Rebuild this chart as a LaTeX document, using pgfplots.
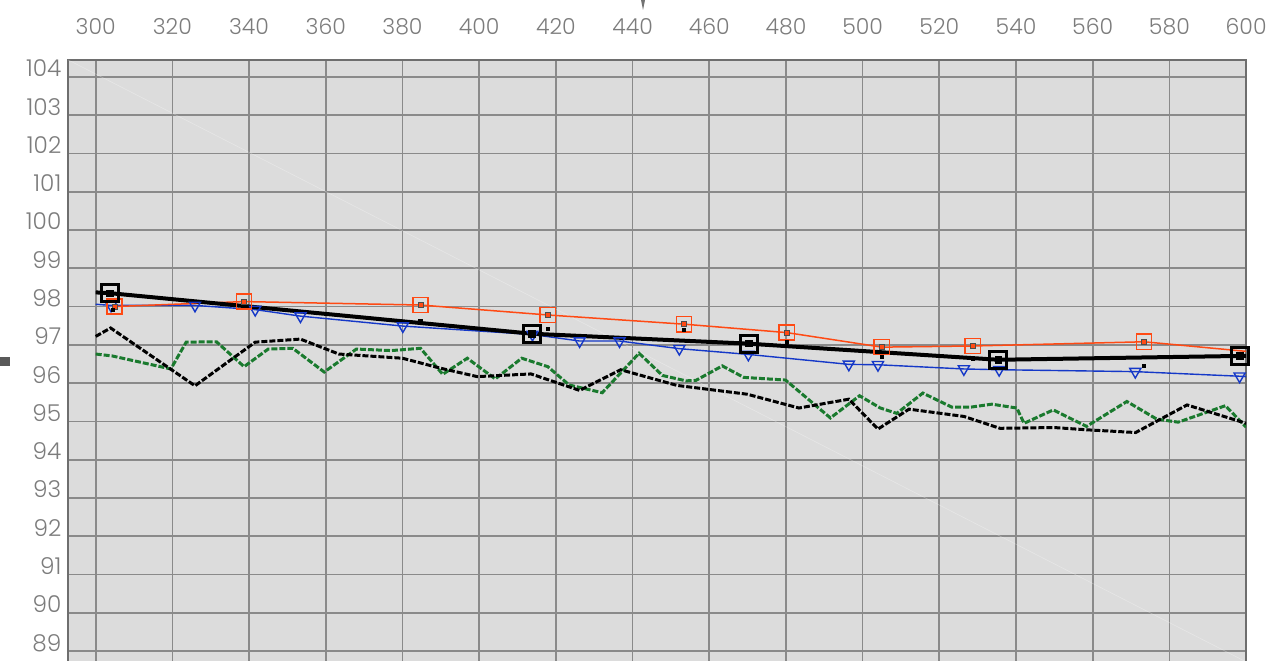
\documentclass[border=0pt]{standalone}
\usepackage{fontspec}
\setmainfont{Poppins}[UprightFont=* Light, Numbers=Monospaced]
\usepackage{pgfplots}
\pgfplotsset{compat=1.18}
\definecolor{bg}{HTML}{DCDCDC}
\definecolor{gridc}{HTML}{8A8A8A}
\definecolor{labc}{HTML}{7C7C7C}
\definecolor{oran}{HTML}{FF4A14}
\definecolor{blu}{HTML}{1538C8}
\definecolor{grn}{HTML}{1A7A2E}
\begin{document}
\begin{tikzpicture}
\path[use as bounding box] (0pt,0pt) rectangle (640pt,330pt);
\begin{axis}[
  at={(34.15pt,300pt)}, anchor=north west,
  scale only axis, width=588.9pt, height=314.7pt,
  xmin=292.86, xmax=600, ymin=88, ymax=104.44,
  xtick={300,320,...,600}, ytick={89,90,...,104},
  xticklabel pos=upper,
  major tick length=0pt,
  grid=major,
  major grid style={draw=gridc, line width=0.85pt},
  axis line style={draw=gridc!80!black, line width=0.9pt},
  axis background/.style={fill=bg},
  /pgf/number format/assume math mode=true,
  xticklabel style={font=\fontsize{11}{13}\selectfont, text=labc, anchor=base, inner sep=0pt, yshift=12.85pt},
  yticklabel style={font=\fontsize{11.6}{13}\selectfont, text=labc, anchor=base east, inner sep=0pt, xshift=-3.3pt},
  clip=true,
]
% faint diagonal
\addplot[white, opacity=0.3, line width=0.3pt] coordinates {(292.86,104.44) (600,88.72)};
% green dashed
\addplot[grn, line width=1.5pt, dash pattern=on 3pt off 1pt] coordinates {
(300,96.76) (304.3,96.71) (319.6,96.37) (323.6,97.07) (331.5,97.08) (338.7,96.43) (345.0,96.89) (351.4,96.91) (359.6,96.29) (368.0,96.89) (377.1,96.85) (384.7,96.91) (390.5,96.23) (396.9,96.65) (404.2,96.11) (411.1,96.65) (417.9,96.43) (423.5,95.95) (432.1,95.75) (441.7,96.78) (447.8,96.20) (453.9,96.06) (456.5,96.07) (463.4,96.45) (469.0,96.15) (479.9,96.08) (491.6,95.09) (499.2,95.67) (504.6,95.35) (508.9,95.21) (515.7,95.74) (523.3,95.37) (528.0,95.37) (533.7,95.45) (540.2,95.35) (542.1,94.95) (549.7,95.30) (558.4,94.87) (568.9,95.52) (576.7,95.06) (582.3,94.98) (594.6,95.41) (600,94.85)};
% black dashed
\addplot[black, line width=1.5pt, dash pattern=on 3pt off 1pt] coordinates {
(300,97.22) (303.9,97.44) (325.9,95.93) (341.6,97.07) (353.4,97.15) (363.4,96.76) (380.0,96.65) (389.9,96.39) (399.5,96.17) (413.5,96.24) (426.2,95.81) (436.9,96.35) (451.6,95.94) (469.9,95.71) (483.4,95.35) (496.4,95.58) (504.0,94.80) (512.1,95.32) (526.4,95.13) (535.8,94.82) (549.9,94.84) (558.6,94.78) (571.2,94.71) (584.6,95.43) (600,94.95)};
% blue
\addplot[blu, line width=0.7pt, mark=triangle, mark indices={2,...,17}, mark size=3.2pt, mark options={rotate=180, solid, line width=0.7pt, fill=none}] coordinates {
(300,98.06) (304.0,98.03) (325.9,98.03) (341.6,97.92) (353.4,97.75) (380.1,97.49) (413.9,97.27) (426.2,97.10) (436.6,97.10) (452.2,96.90) (470.2,96.75) (496.4,96.49) (504.0,96.48) (526.4,96.37) (535.6,96.35) (571.1,96.30) (598.3,96.18) (600,96.17)};
% orange
\addplot[oran, line width=0.75pt, mark=square, mark indices={1,...,9}, mark size=3.8pt, mark options={solid, line width=0.75pt, fill=none}] coordinates {
(304.9,98.00) (338.7,98.13) (384.7,98.04) (417.9,97.78) (453.4,97.54) (480.2,97.32) (505.0,96.94) (528.7,96.97) (573.4,97.08) (600,96.83)};
\addplot[only marks, mark=square*, mark size=1.2pt, mark options={fill=oran, draw=black!70, line width=0.35pt}] coordinates {
(304.9,98.00) (338.7,98.13) (384.7,98.04) (417.9,97.78) (453.4,97.54) (480.2,97.32) (505.0,96.94) (528.7,96.97) (573.4,97.08)};
% black thick
\addplot[black, line width=2pt] coordinates {
(300,98.37) (303.7,98.35) (413.8,97.29) (470.3,97.03) (535.4,96.61) (598.4,96.71) (600,96.71)};
\addplot[only marks, mark=square, mark size=4.2pt, mark options={draw=black, line width=1.5pt, fill=none}] coordinates {
(303.7,98.35) (413.8,97.29) (470.3,97.03) (535.4,96.61) (598.4,96.71)};
\addplot[only marks, mark=square*, mark size=1.6pt, mark options={fill=black, draw=black}] coordinates {
(303.7,98.35) (413.8,97.29) (470.3,97.03) (535.4,96.61) (598.4,96.71)};
% small black dots
\addplot[only marks, mark=square*, mark size=0.8pt, mark options={fill=black, draw=black}] coordinates {
(304.5,97.92) (384.7,97.62) (417.9,97.42) (453.4,97.39) (480.2,97.08) (505.0,96.69) (528.7,96.63) (573.4,96.45)};
\end{axis}
\fill[black!65] (0pt,147pt) rectangle (5pt,151.5pt);
\fill[black!55] (320.5pt,330pt) -- (322.5pt,330pt) -- (321.5pt,325pt) -- cycle;
\end{tikzpicture}
\end{document}
